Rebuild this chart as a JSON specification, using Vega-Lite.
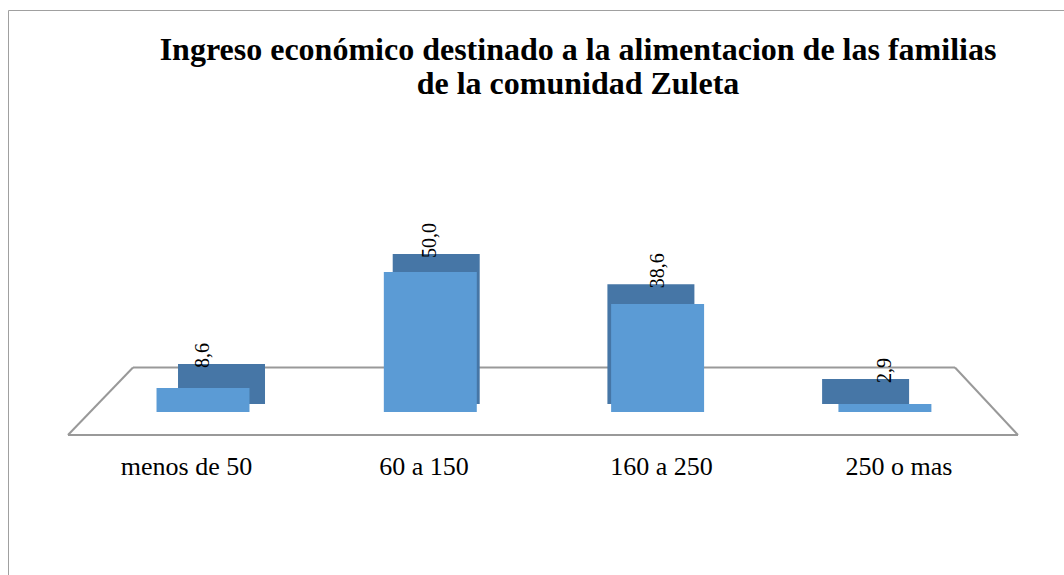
{
  "$schema": "https://vega.github.io/schema/vega-lite/v6.json",
  "width": 1060,
  "height": 570,
  "autosize": {"type": "none"},
  "padding": {"left": 8, "top": 10, "right": 0, "bottom": 0},
  "background": "white",
  "config": {"view": {"stroke": "#a0a0a0", "strokeWidth": 1}, "font": "Liberation Serif"},
  "title": {
    "text": ["Ingreso económico destinado a la alimentacion de las familias", "de la comunidad Zuleta"],
    "font": "Liberation Serif",
    "fontSize": 32,
    "fontWeight": "bold",
    "color": "black",
    "anchor": "middle",
    "dx": 40,
    "offset": -91,
    "lineHeight": 34
  },
  "data": {
    "values": [
      {"rango": "menos de 50", "porcentaje": 8.6},
      {"rango": "60 a 150", "porcentaje": 50.0},
      {"rango": "160 a 250", "porcentaje": 38.6},
      {"rango": "250 o mas", "porcentaje": 2.9}
    ]
  },
  "transform": [
    {"calculate": "replace(format(datum.porcentaje, '.1f'), '.', ',')", "as": "etiqueta"}
  ],
  "layer": [
    {
      "data": {"values": [{"f": 1}]},
      "mark": {"type": "rule", "color": "#999999", "strokeWidth": 2},
      "encoding": {
        "x": {"datum": 0.2526, "type": "quantitative", "scale": {"domain": [0, 4.4632], "nice": false, "zero": false}, "axis": null},
        "x2": {"datum": 4.2526},
        "y": {"datum": -8.21, "type": "quantitative", "scale": {"domain": [-60, 143.57], "nice": false, "zero": false}, "axis": null}
      }
    },
    {
      "data": {"values": [{"f": 1}]},
      "mark": {"type": "rule", "color": "#999999", "strokeWidth": 2},
      "encoding": {
        "x": {"datum": 0.5263, "type": "quantitative", "scale": {"domain": [0, 4.4632], "nice": false, "zero": false}, "axis": null},
        "x2": {"datum": 3.9874},
        "y": {"datum": 15.89, "type": "quantitative", "scale": {"domain": [-60, 143.57], "nice": false, "zero": false}, "axis": null}
      }
    },
    {
      "data": {"values": [{"f": 1}]},
      "mark": {"type": "rule", "color": "#999999", "strokeWidth": 2},
      "encoding": {
        "x": {"datum": 0.2526, "type": "quantitative", "scale": {"domain": [0, 4.4632], "nice": false, "zero": false}, "axis": null},
        "x2": {"datum": 0.5263},
        "y": {"datum": -8.21, "type": "quantitative", "scale": {"domain": [-60, 143.57], "nice": false, "zero": false}, "axis": null},
        "y2": {"datum": 15.89}
      }
    },
    {
      "data": {"values": [{"f": 1}]},
      "mark": {"type": "rule", "color": "#999999", "strokeWidth": 2},
      "encoding": {
        "x": {"datum": 4.2526, "type": "quantitative", "scale": {"domain": [0, 4.4632], "nice": false, "zero": false}, "axis": null},
        "x2": {"datum": 3.9874},
        "y": {"datum": -8.21, "type": "quantitative", "scale": {"domain": [-60, 143.57], "nice": false, "zero": false}, "axis": null},
        "y2": {"datum": 15.89}
      }
    },
    {
      "mark": {"type": "bar", "opacity": 0},
      "encoding": {
        "x": {
          "field": "rango",
          "type": "nominal",
          "sort": null,
          "scale": {"type": "band", "paddingInner": 0.6084, "paddingOuter": 0.5358, "align": 0.5187},
          "axis": {
            "title": null,
            "domain": false,
            "ticks": false,
            "tickSize": 0,
            "grid": false,
            "labelAngle": 0,
            "labelFont": "Liberation Serif",
            "labelFontSize": 26,
            "labelColor": "black",
            "labelPadding": 3,
            "offset": -130
          }
        },
        "y": {"field": "porcentaje", "type": "quantitative", "scale": {"domain": [-60, 143.57], "nice": false, "zero": false}, "axis": null},
        "y2": {"datum": 0}
      }
    },
    {
      "mark": {"type": "bar", "color": "#4676a6"},
      "encoding": {
        "x": {"field": "rango", "type": "nominal", "sort": null, "scale": {"type": "band", "paddingInner": 0.5948, "paddingOuter": 0.766, "align": 0.5169}, "axis": null},
        "y": {"field": "porcentaje", "type": "quantitative", "scale": {"domain": [-72.83, 141.94], "nice": false, "zero": false}, "axis": null},
        "y2": {"datum": -6.52}
      }
    },
    {
      "mark": {"type": "bar", "color": "#5b9bd5"},
      "encoding": {
        "x": {"field": "rango", "type": "nominal", "sort": null, "scale": {"type": "band", "paddingInner": 0.591, "paddingOuter": 0.6272, "align": 0.5209}, "axis": null},
        "y": {"field": "porcentaje", "type": "quantitative", "scale": {"domain": [-60, 143.57], "nice": false, "zero": false}, "axis": null},
        "y2": {"datum": 0}
      }
    },
    {
      "mark": {"type": "text", "angle": 270, "align": "left", "baseline": "middle", "font": "Liberation Serif", "fontSize": 20, "color": "black", "yOffset": 4},
      "encoding": {
        "x": {"field": "rango", "type": "nominal", "sort": null, "bandPosition": 0.5, "scale": {"type": "band", "paddingInner": 0.591, "paddingOuter": 0.6272, "align": 0.5209}, "axis": null},
        "y": {"field": "porcentaje", "type": "quantitative", "scale": {"domain": [-72.83, 141.94], "nice": false, "zero": false}, "axis": null},
        "text": {"field": "etiqueta"}
      }
    }
  ],
  "resolve": {"scale": {"x": "independent", "y": "independent"}}
}
